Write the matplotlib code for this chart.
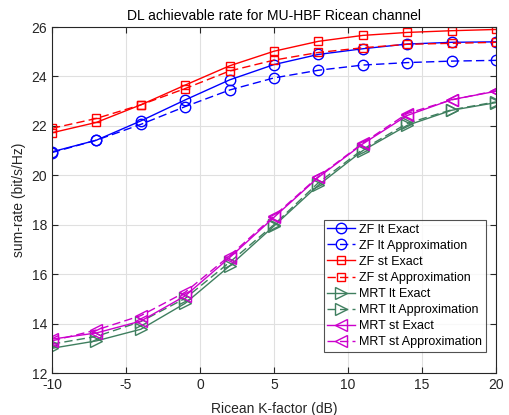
import matplotlib.pyplot as plt

plt.rcParams['font.family'] = ['Liberation Sans', 'DejaVu Sans']
plt.rcParams['axes.unicode_minus'] = False

# data
k_factor = [-10, -7, -4, -1, 2, 5, 8, 11, 14, 17, 20]
zf_lt_exact = [20.95, 21.42, 22.2, 23.05, 23.86, 24.48, 24.89, 25.12, 25.31, 25.38, 25.4]
zf_lt_approx = [20.92, 21.42, 22.06, 22.78, 23.45, 23.94, 24.25, 24.46, 24.56, 24.62, 24.65]
zf_st_exact = [21.72, 22.14, 22.85, 23.65, 24.43, 25.02, 25.42, 25.66, 25.78, 25.85, 25.9]
zf_st_approx = [21.9, 22.3, 22.85, 23.51, 24.22, 24.66, 24.97, 25.16, 25.3, 25.34, 25.38]
mrt_lt_exact = [13.0, 13.3, 13.77, 14.82, 16.33, 17.95, 19.6, 21.0, 22.02, 22.63, 22.94]
mrt_lt_approx = [13.17, 13.48, 14.08, 15.02, 16.48, 18.0, 19.7, 21.05, 22.1, 22.65, 22.97]
mrt_st_exact = [13.37, 13.62, 14.1, 15.12, 16.67, 18.3, 19.92, 21.27, 22.42, 23.06, 23.4]
mrt_st_approx = [13.3, 13.74, 14.32, 15.27, 16.74, 18.35, 19.95, 21.3, 22.5, 23.05, 23.42]

green = '#3f7f5f'
magenta = '#cc00cc'

fig = plt.figure(figsize=(5.1, 4.15), dpi=100)
ax = fig.add_axes([52/510, 1 - 373/415, 444/510, 346/415])

ax.plot(k_factor, zf_lt_exact, color='blue', ls='-', marker='o', ms=7.5, mfc='none', lw=1, label='ZF lt Exact')
ax.plot(k_factor, zf_lt_approx, color='blue', ls='--', dashes=(6, 3), marker='o', ms=7.5, mfc='none', lw=1, label='ZF lt Approximation')
ax.plot(k_factor, zf_st_exact, color='red', ls='-', marker='s', ms=6, mfc='none', lw=1, label='ZF st Exact')
ax.plot(k_factor, zf_st_approx, color='red', ls='--', dashes=(6, 3), marker='s', ms=6, mfc='none', lw=1, label='ZF st Approximation')
ax.plot(k_factor, mrt_lt_exact, color=green, ls='-', marker='>', ms=8, mfc='none', lw=1, label='MRT lt Exact')
ax.plot(k_factor, mrt_lt_approx, color=green, ls='--', dashes=(6, 3), marker='>', ms=8, mfc='none', lw=1, label='MRT lt Approximation')
ax.plot(k_factor, mrt_st_exact, color=magenta, ls='-', marker='<', ms=8, mfc='none', lw=1, label='MRT st Exact')
ax.plot(k_factor, mrt_st_approx, color=magenta, ls='--', dashes=(6, 3), marker='<', ms=8, mfc='none', lw=1, label='MRT st Approximation')

ax.set_xlim(-10, 20)
ax.set_ylim(12, 26)
ax.set_xticks([-10, -5, 0, 5, 10, 15, 20])
ax.set_yticks([12, 14, 16, 18, 20, 22, 24, 26])
ax.grid(True, color='#e0e0e0', lw=0.8)
ax.set_axisbelow(True)
ax.tick_params(direction='in', top=True, right=True, labelsize=10, colors='#262626', length=4)
for s in ax.spines.values():
    s.set_color('#262626')
    s.set_linewidth(0.8)

ax.set_title('DL achievable rate for MU-HBF Ricean channel', fontsize=10, pad=5)
ax.set_xlabel('Ricean K-factor (dB)', fontsize=10, labelpad=7, color='#262626')
ax.set_ylabel('sum-rate (bit/s/Hz)', fontsize=10, labelpad=4, color='#262626')

leg = ax.legend(loc='lower right', bbox_to_anchor=(0.9775, 0.06), fontsize=9,
                frameon=True, fancybox=False, edgecolor='#262626',
                handlelength=2.2, handletextpad=0.35, labelspacing=0.33,
                borderpad=0.3, borderaxespad=0)
leg.get_frame().set_linewidth(0.8)

fig.savefig('out.png', dpi=100)
